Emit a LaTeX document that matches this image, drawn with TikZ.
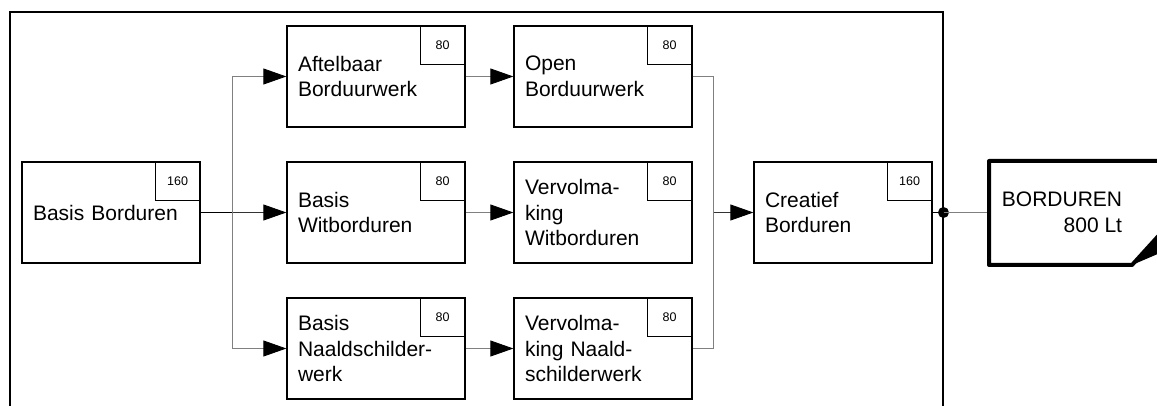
\documentclass[tikz,border=0pt]{standalone}
\usepackage{fontspec}
\setmainfont{Liberation Sans}
\usetikzlibrary{arrows,arrows.meta,positioning,calc}
\newcommand\procfont{\fontsize{21}{25.5}\selectfont}
\newcommand\hrsfont{\fontsize{12.5}{14}\selectfont}
\tikzset{
  proc/.style={draw, line width=1.3pt, minimum width=178pt, minimum height=101pt,
    text width=156pt, inner xsep=11pt, inner ysep=0pt, align=left, font=\procfont},
  hrsbox/.style={draw, line width=1.1pt, anchor=north east, minimum width=45pt,
    minimum height=39pt, inner sep=0pt, font=\hrsfont},
  flow/.style={draw=gray, line width=0.8pt},
  flowarr/.style={flow, -{Triangle[length=23pt,width=16pt,color=black,fill=black]}},
}
\begin{document}
\begin{tikzpicture}[x=1pt,y=-1pt,node distance=35pt and 87pt]
\useasboundingbox (0,0) rectangle (1157,406);
% Frame
  \draw[line width=1.6pt] (10,406) -- (10,12) -- (943,12) -- (943,406);
% Modules
  \node[proc] (bb) at (111,212.5) {Basis Borduren};
  \node[proc, right=85.7pt of bb] (bw) {Basis\\Witborduren};
  \node[proc, above=33.7pt of bw] (ab) {Aftelbaar\\Borduurwerk};
  \node[proc, below=33.7pt of bw] (bn) {Basis\\Naaldschilder-\\werk};
  \node[proc, right=47.7pt of ab] (op) {Open\\Borduurwerk};
  \node[proc, right=47.7pt of bw] (vw) {Vervolma-\\king\\Witborduren};
  \node[proc, right=47.7pt of bn] (vn) {Vervolma-\\king Naald-\\schilderwerk};
  \node[proc, right=60.7pt of vw] (cb) {Creatief\\Borduren};
% Hours
  \node[hrsbox] (bb-h) at (bb.north east) {160};
  \node[hrsbox] (ab-h) at (ab.north east) {80};
  \node[hrsbox] (bw-h) at (bw.north east) {80};
  \node[hrsbox] (bn-h) at (bn.north east) {80};
  \node[hrsbox] (op-h) at (op.north east) {80};
  \node[hrsbox] (vw-h) at (vw.north east) {80};
  \node[hrsbox] (vn-h) at (vn.north east) {80};
  \node[hrsbox] (cb-h) at (cb.north east) {160};
% Connectors
  \coordinate (split) at ($(bb.east)+(32,0)$);
  \coordinate (join) at ($(vw.east)+(21,0)$);
  \draw[line width=0.8pt] (bb.east) -- (split);
  \draw[flowarr] (split) |- (ab.west);
  \draw[flowarr] (split) |- (bn.west);
  \draw[flowarr, draw=black!80] (split) -- (bw.west);
  \draw[flowarr] (ab.east) -- (op.west);
  \draw[flowarr] (bw.east) -- (vw.west);
  \draw[flowarr] (bn.east) -- (vn.west);
  \draw[flow] (op.east) -| (join) |- (vn.east);
  \draw[flowarr, draw=black!80] (join) -- (cb.west);
% Output
  \coordinate (dot) at (943.5,212.5);
  \coordinate (outw) at (989,212.5);
  \draw[line width=0.8pt] (cb.east) -- (dot);
  \fill (dot) circle (5.5);
  \draw[flow] (dot) -- (outw);
  \draw[line width=4pt, line join=round] (1170,161) -- (989,161) -- (outw) -- (989,265) -- (1132,265) -- (1162,232);
  \fill (1132,265) -- (1160,233) -- (1160,253) -- cycle;
  \node[align=right, font=\procfont, inner sep=0pt] (out) at (1062,212.5) {BORDUREN\\800 Lt};
\end{tikzpicture}
\end{document}
